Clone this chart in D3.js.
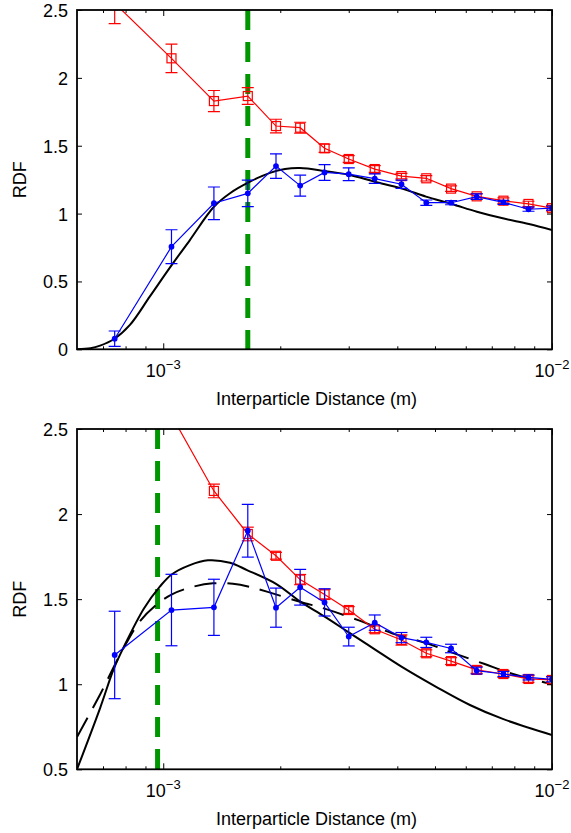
<!DOCTYPE html>
<html><head><meta charset="utf-8">
<script src="https://cdn.jsdelivr.net/npm/d3@7"></script>
<style>
body{margin:0;background:#fff}
svg{display:block}
text{font-family:"Liberation Sans",Arial,Helvetica,sans-serif;fill:#000}
</style>
</head><body>
<svg id="chart" width="571" height="833"></svg>
<script>
// ---------- DATA (distances in units of 1e-3 m) ----------
const binDistance = [0.75, 1.05, 1.35, 1.65, 1.95, 2.25, 2.6, 3.0, 3.5, 4.1, 4.75, 5.5, 6.4, 7.5, 8.7, 10.0];

// top panel
const topRed     = [2.55, 2.144, 1.829, 1.866, 1.645, 1.633, 1.481, 1.402, 1.328, 1.276, 1.26, 1.184, 1.127, 1.095, 1.071, 1.04];
const topRedErr  = [0.15, 0.105, 0.078, 0.062, 0.05, 0.04, 0.03, 0.025, 0.025, 0.02, 0.02, 0.02, 0.02, 0.02, 0.02, 0.02];
const topBlue    = [0.078, 0.756, 1.076, 1.149, 1.35, 1.206, 1.303, 1.29, 1.258, 1.216, 1.08, 1.08, 1.125, 1.083, 1.032, 1.04];
const topBlueErr = [0.057, 0.125, 0.12, 0.098, 0.09, 0.077, 0.058, 0.047, 0.035, 0.03, 0.02, 0.015, 0.02, 0.015, 0.015, 0.015];
const topModelX  = [0.600, 0.650, 0.688, 0.746, 0.821, 0.924, 1.051, 1.171, 1.350, 1.485, 1.672, 1.882, 2.057, 2.247, 2.590, 3.000, 3.500, 4.090, 4.740, 5.520, 6.410, 7.470, 8.720, 10.00];
const topModelY  = [0.000, 0.008, 0.027, 0.074, 0.180, 0.390, 0.620, 0.805, 1.050, 1.150, 1.235, 1.300, 1.328, 1.335, 1.315, 1.286, 1.235, 1.186, 1.125, 1.071, 1.014, 0.965, 0.923, 0.879];
const topMarker  = 1.65;

// bottom panel
const botRed     = [3.4, 2.58, 2.136, 1.883, 1.755, 1.615, 1.528, 1.436, 1.323, 1.26, 1.182, 1.136, 1.084, 1.06, 1.031, 1.025];
const botRedErr  = [0.1, 0.06, 0.04, 0.04, 0.02, 0.03, 0.03, 0.02, 0.02, 0.03, 0.02, 0.02, 0.02, 0.02, 0.02, 0.02];
const botBlue    = [1.172, 1.436, 1.452, 1.902, 1.45, 1.57, 1.481, 1.28, 1.362, 1.274, 1.246, 1.21, 1.08, 1.06, 1.04, 1.029];
const botBlueErr = [0.257, 0.21, 0.165, 0.155, 0.115, 0.105, 0.08, 0.055, 0.045, 0.03, 0.03, 0.025, 0.02, 0.015, 0.015, 0.015];
const botSolidX  = [0.600, 0.688, 0.746, 0.792, 0.892, 0.981, 1.051, 1.171, 1.303, 1.485, 1.642, 1.950, 2.247, 2.590, 3.000, 3.500, 4.090, 5.060, 6.150, 7.470, 10.00];
const botSolidY  = [0.500, 0.860, 1.090, 1.220, 1.445, 1.575, 1.645, 1.700, 1.728, 1.714, 1.671, 1.590, 1.487, 1.400, 1.305, 1.205, 1.105, 0.982, 0.878, 0.796, 0.702];
const botDashX   = [0.600, 0.688, 0.783, 0.871, 0.963, 1.053, 1.171, 1.342, 1.511, 1.672, 1.848, 2.247, 2.637, 3.187, 3.876, 4.769, 5.466, 6.683, 7.938, 10.00];
const botDashY   = [0.690, 0.940, 1.195, 1.370, 1.470, 1.528, 1.568, 1.593, 1.590, 1.572, 1.544, 1.485, 1.440, 1.375, 1.300, 1.240, 1.190, 1.120, 1.060, 1.000];
const botMarker  = 0.967;

const topYTicks = [0, 0.5, 1, 1.5, 2, 2.5];
const botYTicks = [0.5, 1, 1.5, 2, 2.5];
const xMajor = [1e-3, 1e-2];
const xMinor = [7e-4, 8e-4, 9e-4, 2e-3, 3e-3, 4e-3, 5e-3, 6e-3, 7e-3, 8e-3, 9e-3];
const xMajorLabels = ["−3", "−2"];
const xLabel = "Interparticle Distance (m)";
const yLabel = "RDF";

// ---------- DRAW ----------
const svg = d3.select("#chart");
const MM = 1e-3;
const FONT = 18;

function panel(cfg, idx) {
  const L = 77, R = 552, T = cfg.top, B = cfg.bottom;
  const x = d3.scaleLog().domain([6e-4, 1e-2]).range([L, R]);
  const y = d3.scaleLinear().domain(cfg.yDomain).range([B, T]);
  const g = svg.append("g");

  const clipId = "clip" + idx;
  svg.append("clipPath").attr("id", clipId)
    .append("rect").attr("x", L).attr("y", T).attr("width", R - L).attr("height", B - T);
  const plot = g.append("g").attr("clip-path", `url(#${clipId})`);

  // green dashed marker line
  plot.append("line")
    .attr("x1", x(cfg.marker * MM)).attr("x2", x(cfg.marker * MM))
    .attr("y1", T).attr("y2", B)
    .attr("stroke", "rgb(0,150,0)").attr("stroke-width", 5)
    .attr("stroke-dasharray", "20,12");

  // model curves
  cfg.models.forEach(m => {
    const pts = m.x.map((d, i) => [d * MM, m.y[i]]);
    plot.append("path")
      .attr("d", d3.line().x(d => x(d[0])).y(d => y(d[1])).curve(d3.curveCatmullRom.alpha(0.5))(pts))
      .attr("fill", "none").attr("stroke", "#000").attr("stroke-width", 2)
      .attr("stroke-dasharray", m.dash ? "22,11" : null);
  });

  // series with error bars
  function series(vals, errs, color, marker) {
    const pts = binDistance.map((d, i) => ({x: d * MM, v: vals[i], e: errs[i]}));
    const s = plot.append("g");
    s.append("path")
      .attr("d", d3.line().x(d => x(d.x)).y(d => y(d.v))(pts))
      .attr("fill", "none").attr("stroke", color).attr("stroke-width", 1.2);
    const eb = s.selectAll(".eb").data(pts).enter().append("g")
      .attr("stroke", color).attr("stroke-width", 1.2);
    eb.append("line").attr("x1", d => x(d.x)).attr("x2", d => x(d.x))
      .attr("y1", d => y(d.v - d.e)).attr("y2", d => y(d.v + d.e));
    [1, -1].forEach(sg => {
      eb.append("line").attr("x1", d => x(d.x) - 6).attr("x2", d => x(d.x) + 6)
        .attr("y1", d => y(d.v + sg * d.e)).attr("y2", d => y(d.v + sg * d.e));
    });
    if (marker === "square") {
      s.selectAll(".mk").data(pts).enter().append("rect")
        .attr("x", d => x(d.x) - 4.5).attr("y", d => y(d.v) - 4.5)
        .attr("width", 9).attr("height", 9)
        .attr("fill", "none").attr("stroke", color).attr("stroke-width", 1.2);
    } else {
      s.selectAll(".mk").data(pts).enter().append("circle")
        .attr("cx", d => x(d.x)).attr("cy", d => y(d.v)).attr("r", 2.9)
        .attr("fill", color);
    }
  }
  series(cfg.red, cfg.redErr, "rgb(255,0,0)", "square");
  series(cfg.blue, cfg.blueErr, "rgb(0,0,255)", "dot");

  // axes (ticks inside, all four sides)
  const ax = g.append("g").attr("font-size", FONT);
  const strip = s => { s.select(".domain").remove(); s.selectAll("line").attr("stroke-width", 1); };
  ax.append("g").attr("transform", `translate(0,${B})`)
    .call(d3.axisBottom(x).tickValues(xMajor).tickSize(-6).tickFormat("")).call(strip);
  ax.append("g").attr("transform", `translate(0,${B})`)
    .call(d3.axisBottom(x).tickValues(xMinor).tickSize(-3).tickFormat("")).call(strip);
  ax.append("g").attr("transform", `translate(0,${T})`)
    .call(d3.axisTop(x).tickValues(xMajor).tickSize(-6).tickFormat("")).call(strip);
  ax.append("g").attr("transform", `translate(0,${T})`)
    .call(d3.axisTop(x).tickValues(xMinor).tickSize(-3).tickFormat("")).call(strip);
  const yl = ax.append("g").attr("transform", `translate(${L},0)`)
    .call(d3.axisLeft(y).tickValues(cfg.yTicks).tickSize(-5).tickPadding(9).tickFormat(d3.format("~g"))).call(strip);
  yl.selectAll("text").attr("font-size", FONT).attr("dy", "0.36em");
  ax.append("g").attr("transform", `translate(${R},0)`)
    .call(d3.axisRight(y).tickValues(cfg.yTicks).tickSize(-5).tickFormat("")).call(strip);

  // x tick labels 10^n
  xMajor.forEach((v, i) => {
    const t = g.append("text").attr("x", x(v)).attr("y", B + 27.5)
      .attr("text-anchor", "middle").attr("font-size", FONT);
    t.append("tspan").text("10");
    t.append("tspan").attr("font-size", 13).attr("dy", -8).text(xMajorLabels[i]);
  });

  // frame
  g.append("rect").attr("x", L).attr("y", T).attr("width", R - L).attr("height", B - T)
    .attr("fill", "none").attr("stroke", "#000").attr("stroke-width", 1.8);

  // axis labels
  g.append("text").attr("x", (L + R) / 2 + 2).attr("y", B + 56)
    .attr("text-anchor", "middle").attr("font-size", FONT).text(xLabel);
  g.append("text").attr("transform", `translate(26,${(T + B) / 2}) rotate(-90)`)
    .attr("text-anchor", "middle").attr("font-size", FONT).text(yLabel);
}

panel({top: 10, bottom: 349.3, yDomain: [0, 2.5], yTicks: topYTicks,
  red: topRed, redErr: topRedErr, blue: topBlue, blueErr: topBlueErr,
  models: [{x: topModelX, y: topModelY, dash: false}], marker: topMarker}, 0);

panel({top: 429, bottom: 769.3, yDomain: [0.5, 2.5], yTicks: botYTicks,
  red: botRed, redErr: botRedErr, blue: botBlue, blueErr: botBlueErr,
  models: [{x: botSolidX, y: botSolidY, dash: false}, {x: botDashX, y: botDashY, dash: true}], marker: botMarker}, 1);
</script>
</body></html>
